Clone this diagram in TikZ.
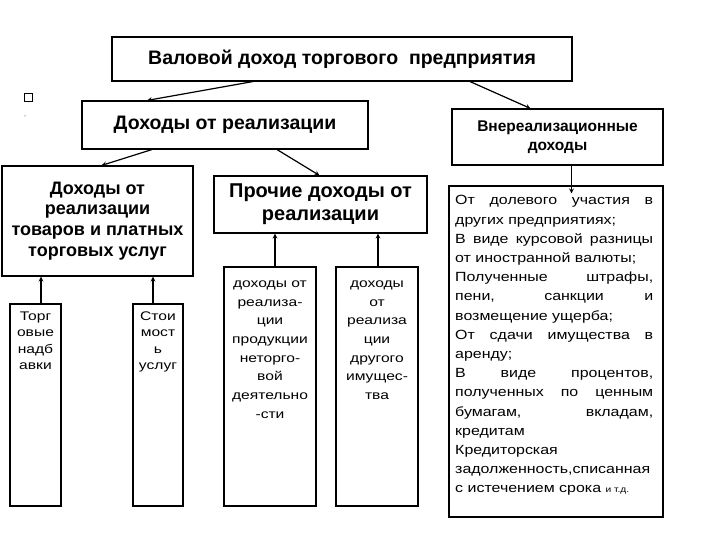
\documentclass[tikz,border=0pt]{standalone}
\usepackage{fontspec}
\usepackage{graphicx}
\setmainfont{Liberation Sans}
\usetikzlibrary{arrows, calc}
\tikzstyle{box} = [rectangle, draw=black, line width=1.1pt, inner sep=0pt, align=center]
\tikzstyle{arrow} = [->, >=stealth, line width=1.2pt]
\tikzstyle{bigtext} = [font=\bfseries\fontsize{19.5}{23}\selectfont]
\tikzstyle{goodstext} = [font=\bfseries\fontsize{18}{20.7}\selectfont]
\tikzstyle{othertext} = [font=\bfseries\fontsize{20}{23}\selectfont]
\tikzstyle{midtext} = [font=\bfseries\fontsize{15.5}{19}\selectfont]
\tikzstyle{slimtext} = [inner sep=0pt, anchor=north, font=\fontsize{12.5}{16.5}\selectfont]
\tikzstyle{coltext} = [inner sep=0pt, anchor=north, font=\fontsize{12.5}{18.7}\selectfont]
% horizontally widened text block
\newcommand{\widetext}[3][1.25]{\scalebox{#1}[1]{\parbox[t]{#2}{#3}}}

\begin{document}
\begin{tikzpicture}[x=1pt, y=-1pt]
	\useasboundingbox (0,0) rectangle (720,540);

	% set up upper boxes
	\node (gross) [box, bigtext, minimum width=460pt, minimum height=44pt] at (342,59) {Валовой доход торгового~ предприятия};
	\node (sales) [box, bigtext, minimum width=286pt, minimum height=48pt] at (225,125) {Доходы от реализации};
	\node (nonsales) [box, midtext, minimum width=211pt, minimum height=56pt] at (557.5,137) {Внереализационные\\доходы};
	\node (bullet) [rectangle, draw=black, line width=0.6pt, minimum size=8pt, inner sep=0pt] at (28,97.5) {};
	\node (dot) [circle, fill=black!40, minimum size=1.5pt, inner sep=0pt] at (25,116) {};

	% set up middle boxes
	\node (goods) [box, goodstext, minimum width=191pt, minimum height=110pt] at (97.5,221) {Доходы от\\реализации\\товаров и платных\\торговых услуг};
	\node (other) [box, othertext, minimum width=213pt, minimum height=57pt] at (320.5,204.5) {Прочие доходы от\\реализации};

	% set up lower boxes
	\node (torg) [box, minimum width=51pt, minimum height=202pt] at (35.5,405) {};
	\node (torg-text) [slimtext] at (35.5,311.5) {\widetext{38pt}{\centering Торг\\овые\\надб\\авки}};
	\node (stoi) [box, minimum width=50pt, minimum height=202pt] at (158,405) {};
	\node (stoi-text) [slimtext] at (158,311.5) {\widetext{38pt}{\centering Стои\\мост\\ь\\услуг}};
	\node (prod) [box, minimum width=92pt, minimum height=239pt] at (270,386.5) {};
	\node (prod-text) [coltext] at (270,280.5) {\widetext{70pt}{\centering доходы от\\реализа-\\ции\\продукции\\неторго-\\вой\\деятельно\\-сти}};
	\node (imush) [box, minimum width=82pt, minimum height=239pt] at (377,386.5) {};
	\node (imush-text) [coltext] at (377,280.5) {\widetext{62pt}{\centering доходы\\от\\реализа\\ции\\другого\\имущес-\\тва}};

	% set up list of non-sales incomes
	\node (list) [box, minimum width=214pt, minimum height=331pt] at (556,351.5) {};
	\node (list-text) [anchor=north west, inner sep=0pt, font=\fontsize{13.3}{19.2}\selectfont] at (455,195.5) {%
		\widetext[1.2]{165pt}{\hyphenpenalty=10000 \tolerance=10000
		От долевого участия в\linebreak
		других предприятиях;\newline
		В виде курсовой разницы\linebreak
		от иностранной валюты;\newline
		Полученные штрафы,\linebreak
		пени, санкции и\linebreak
		возмещение ущерба;\newline
		От сдачи имущества в\linebreak
		аренду;\newline
		В виде процентов,\linebreak
		полученных по ценным\linebreak
		бумагам, вкладам,\linebreak
		кредитам\newline
		Кредиторская\newline
		задолженность,списанная\newline
		с истечением срока {\fontsize{8.5}{10}\selectfont и т.д.}}};

	% set up arrows between boxes
	\draw [arrow] ([xshift=-89pt]gross.south) -- ([xshift=-78pt]sales.north);
	\draw [arrow] ([xshift=128pt]gross.south) -- ([xshift=-27pt]nonsales.north);
	\draw [arrow] ([xshift=-73pt]sales.south) -- ([xshift=4pt]goods.north);
	\draw [arrow] ([xshift=52pt]sales.south) -- ([xshift=-1pt]other.north);
	\draw [arrow] ([xshift=14pt]nonsales.south) -- ([xshift=15.5pt, yshift=-8pt]list.north);
	\draw [arrow] ([xshift=5.5pt]torg.north) -- ([xshift=-56.5pt]goods.south);
	\draw [arrow] ([xshift=-5pt]stoi.north) -- ([xshift=55.5pt]goods.south);
	\draw [arrow] ([xshift=5pt]prod.north) -- ([xshift=-45.5pt]other.south);
	\draw [arrow] ([xshift=1pt]imush.north) -- ([xshift=57.5pt]other.south);

\end{tikzpicture}
\end{document}
